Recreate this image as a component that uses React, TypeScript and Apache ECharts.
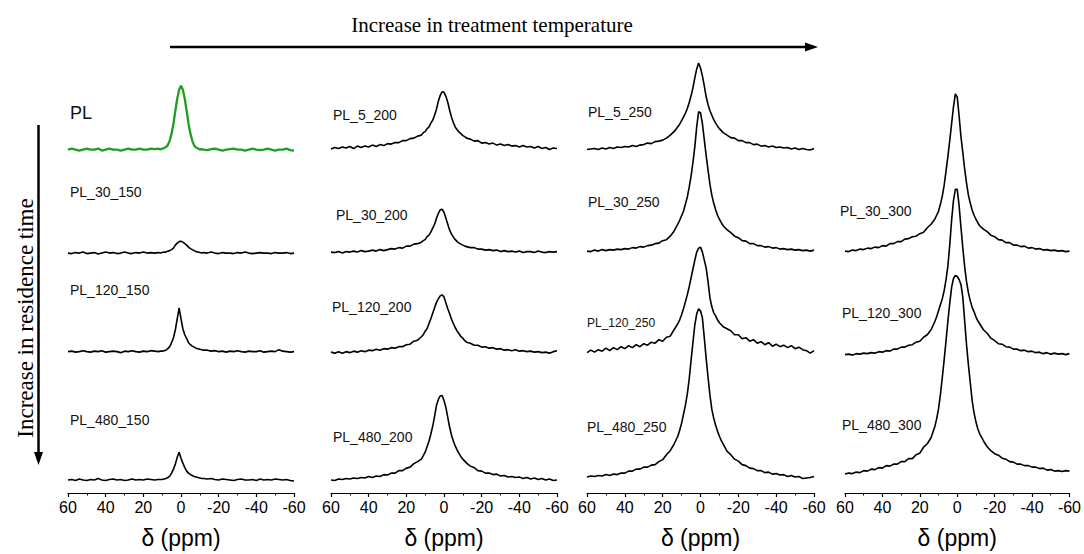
import React, { useEffect, useRef } from "react";
import * as echarts from "echarts";

// chemical shift grid (ppm), shared by every spectrum
const PPM = [
  60, 58, 56, 54, 52, 50, 48, 46, 44, 42, 40, 38, 36, 34, 32, 30, 28, 26, 24, 22, 20, 18, 16, 14,
  12, 11, 10, 9, 8, 7, 6, 5, 4, 3, 2, 1, 0, -1, -2, -3, -4, -5, -6, -7, -8, -9, -10, -11, -12,
  -14, -16, -18, -20, -22, -24, -26, -28, -30, -32, -34, -36, -38, -40, -42, -44, -46, -48, -50, -52, -54, -56, -58, -60,
];

const X_TICKS = [60, 40, 20, 0, -20, -40, -60];

// intensities (arbitrary units) above each spectrum's baseline
const I_PL = [
  0, 1, 0, -1, 0, 1, 0, 0, 1, -1, 0, 1, 0, 0, -1, 0, 1, 0, 0, 1, 0, 0, 1, 0.5,
  1, 0, 1, 1.5, 2.5, 4.5, 9, 16, 26, 39, 51, 60, 64, 60, 51, 39, 26, 16, 9, 4, 2, 1, 0, 0.5, 0,
  -0.5, 0.5, 1, 0, -1, 0, 0.5, 1, 0, 0, -1, 0, 1, 0, -0.5, 0, 1, 0, -1, 0, 0, 1, -0.5, -1,
];
const I_PL_30_150 = [
  0, -0.5, 0.5, 0, 1, -0.5, 0, 0.5, -1, 0, 1, 0, 0.5, -0.5, 0, 1, 0, -0.5, 0.5, 0, 1, 0, 0.5, 0,
  0.5, 0, 0.5, 1, 1, 2, 2.5, 3.5, 5, 8, 10, 11.5, 12, 11, 9.5, 8, 6, 4.5, 3.5, 2.5, 1.5, 1, 0.5, 0, 0.5,
  0, 1, 0, -0.5, 0.5, 0, 0, -0.5, 0.5, 0, 1, 0, -0.5, 0, 0.5, 0, 0, -0.5, 0.5, 0, 0, 0.5, -0.5, 0,
];
const I_PL_120_150 = [
  0, 0.5, -0.5, 0, 1, 0, -0.5, 0.5, 0, 1, -0.5, 0, 0.5, 0, -1, 0.5, 0, 1, 0, -0.5, 0.5, 0, 1, 0.5,
  0, 0.5, 0.5, 1, 1.5, 3, 5, 9, 14, 22, 33, 44, 33, 23, 17, 13, 9, 7, 5.5, 4.5, 3.5, 3, 2.5, 2, 1.5,
  1.5, 0.5, 1, 0, 0.5, -0.5, 0.5, 0, 1, 0, -0.5, 0.5, 0, 0, 1, -0.5, 0, 0.5, 0, 2, 0.5, 0, -0.5, 0,
];
const I_PL_480_150 = [
  0, 0.5, -0.5, 1, 0, -0.5, 0.5, 0, 1.5, 0, -0.5, 0.5, 1, 0, 0.5, -0.5, 0, 1, 0, 0.5, 0, 1, 0.5, 0,
  0.5, 0.5, 0.5, 1, 1.5, 2.5, 4, 7, 11, 16, 23, 28, 22, 17, 12.5, 9, 7, 5.5, 4.5, 3.5, 3, 2.5, 2, 1.5, 1.5,
  1, 1.5, 0.5, 0, 1, 0.5, 0, -0.5, 0.5, 1, 0, 0, 0.5, -0.5, 1, 0, 0.5, 0, 1, 0.5, 0, 0.5, -0.5, -1,
];
const I_PL_5_200 = [
  -1, 0.5, -0.5, 1, 0, 1.5, -0.5, 2, 0.5, 2, 1, 3, 1.5, 3.5, 2.5, 4.5, 4, 5.5, 5.5, 7.5, 7.5, 9.5, 10, 12,
  13, 15.5, 16.5, 19.5, 21, 25, 28, 33, 39, 47, 53, 56.5, 56, 52, 46, 38, 31, 25.5, 21, 18.5, 16, 14.5, 12.5, 11.5, 10,
  9, 7, 7.5, 5, 5.5, 4, 5, 3, 4, 2.5, 3.5, 2, 2.5, 1, 2.5, 1, 1.5, 0, 1.5, -0.5, 0.5, -1.5, 0, -0.5,
];
const I_PL_30_200 = [
  0, -0.5, 0.5, -1, 0.5, 0, 1, 0, 1.5, 0.5, 1, 2, 1, 2.5, 1.5, 2.5, 3.5, 3, 4.5, 4, 6, 6, 8, 8.5,
  10, 11.5, 12.5, 15.5, 17, 20, 24, 28, 34, 39, 42.5, 43, 40, 34, 28, 22, 18, 15, 12.5, 10.5, 9, 8, 7, 6, 5.5,
  4.5, 4.5, 3, 3, 2, 2.5, 1.5, 2, 0.5, 1.5, 0.5, 1, 0, 1, -0.5, 0.5, 0.5, -0.5, 1, 0, -0.5, 0.5, 0, 0.5,
];
const I_PL_120_200 = [
  0.5, -0.5, 1, -0.5, 1, 0, 1.5, 0.5, 2, 1, 2.5, 2, 3.5, 2.5, 4, 3.5, 5, 4.5, 6, 6, 8, 8.5, 11.5, 12.5,
  16, 18, 21.5, 24, 29, 34, 39.5, 45, 50.5, 54, 57, 58, 56, 50, 44, 39, 33.5, 29, 25, 21.5, 19, 16, 14.5, 12, 10.5,
  9.5, 7.5, 7.5, 5.5, 6, 4.5, 5, 3.5, 4, 2.5, 3, 2, 3, 1.5, 2, 1, 1.5, 0.5, 1, 0, 0.5, -0.5, 1, 2,
];
const I_PL_480_200 = [
  0, -0.5, 1, 0.5, 1.5, 1, 2, 1.5, 2.5, 2, 3.5, 2.5, 4, 3.5, 5.5, 5, 7, 7, 9.5, 9.5, 12, 13, 16.5, 18.5,
  21, 24.5, 28, 33.5, 39, 46, 54, 64, 75, 81, 84.5, 85, 80, 73, 63, 53, 45, 39, 34, 30, 26.5, 23.5, 21, 19, 17,
  14, 12.5, 9.5, 9, 7, 7, 5.5, 6, 4, 4.5, 3, 3.5, 2.5, 3, 1.5, 2.5, 1, 2, 0.5, 1.5, 0, 1, -0.5, 0,
];
const I_PL_5_250 = [
  0, 0.5, 1, 0, 1.5, 0.5, 2, 1, 2.5, 2, 3, 2.5, 4, 3, 4.5, 5, 6.5, 6, 8, 8.5, 9.5, 11.5, 14.5, 18,
  23, 25.5, 29, 32.5, 36.5, 41, 47, 54, 62, 72, 81, 87, 82, 74, 64, 53, 45, 39, 34.5, 30, 26.5, 23.5, 21, 19, 17,
  14.5, 12, 11.5, 9, 9, 7, 7, 5, 5.5, 3.5, 4, 2.5, 3.5, 2, 2.5, 1.5, 2, 0.5, 1.5, 0, 1, 0, -0.5, 1,
];
const I_PL_30_250 = [
  0, -0.5, 1, 0, 1.5, 0.5, 1.5, 1, 2, 1.5, 2.5, 2, 3.5, 3, 4.5, 4, 5.5, 6, 7.5, 8, 10.5, 11.5, 15, 20,
  27, 31, 35.5, 40, 47, 54, 64, 75, 89, 105, 125, 140, 139, 128, 112, 96, 81, 67, 56, 48, 41.5, 36, 32, 28.5, 25.5,
  21.5, 18.5, 15, 13.5, 10.5, 10, 7.5, 7.5, 5.5, 5.5, 4, 4.5, 3, 3.5, 2, 2.5, 1.5, 2, 1, 1.5, 0.5, 1, 0, 1,
];
const I_PL_120_250 = [
  -1, 1.5, -0.5, 2, 0.5, 3.5, 1, 4, 2, 5, 3, 6, 4, 7, 5, 8, 6.5, 9.5, 8.5, 12, 10.5, 14.5, 15.5, 22,
  28, 32, 37, 43, 50, 57, 65, 74, 83, 92, 100, 104, 105, 100, 92, 84, 70, 54, 45, 39, 36, 32, 29, 27, 25,
  23, 21, 17, 17, 13, 14, 10.5, 12, 8.5, 10, 7, 9, 5.5, 7.5, 5, 6.5, 4, 6, 3, 4.5, 2, 1, -1.5, 1,
];
const I_PL_480_250 = [
  0, 1, 0.5, 1.5, 1, 2.5, 1.5, 3, 2.5, 4, 4, 6, 6, 8, 8, 10, 10, 12, 12.5, 15.5, 17.5, 22.5, 26.5, 33,
  41, 47, 54, 63, 72, 83, 98, 117, 135, 153, 164, 169, 167, 160, 140, 119, 100, 82, 68, 59, 52, 46, 41, 36.5, 33,
  26, 22.5, 18, 16, 12.5, 11.5, 9, 8.5, 6.5, 6.5, 4.5, 5, 3, 3.5, 2, 2.5, 0.5, 1.5, 0, 0.5, -1.5, -1, -0.5, 0.5,
];
const I_PL_30_300 = [
  0, -0.5, 1, 0.5, 2, 1.5, 3, 2.5, 4, 3.5, 5.5, 5, 7.5, 7.5, 9.5, 9.5, 12, 12.5, 14.5, 15, 17.5, 19, 23.5, 27,
  32, 36, 40, 47, 55, 66, 80, 95, 111, 128, 145, 158, 155, 136, 115, 99, 82, 68, 56, 48, 41, 36, 32, 28.5, 25.5,
  22, 19.5, 16, 14.5, 11.5, 11, 8.5, 8.5, 6, 6, 4.5, 5, 3, 3.5, 2, 2.5, 1, 1.5, 0.5, 1, 0, 0.5, -0.5, 0,
];
const I_PL_120_300 = [
  0, 0.5, -0.5, 1, 0.5, 1.5, 1, 2, 1.5, 3, 2.5, 4, 3.5, 5.5, 5.5, 7.5, 7.5, 9.5, 10, 12.5, 13.5, 17.5, 20, 25,
  33, 38, 44, 50, 56, 64, 75, 89, 110, 135, 155, 166, 166, 150, 128, 107, 88, 73, 62, 54, 47.5, 43, 38, 34, 31,
  25, 21.5, 16.5, 14, 11, 10.5, 8, 7.5, 5.5, 5.5, 4, 4.5, 3, 3.5, 2, 2.5, 1, 2, 0.5, 1.5, 0.5, 1, 0, 1,
];
const I_PL_480_300 = [
  -1.5, -0.5, -1, 0.5, 0, 2, 1.5, 3.5, 3, 5, 4.5, 7, 6.5, 8.5, 8.5, 11, 11, 14, 14, 18, 19.5, 25.5, 29, 35,
  46, 54, 64, 78, 95, 113, 132, 152, 170, 186, 195, 198, 197, 194, 189, 176, 152, 128, 108, 90, 72, 60, 51, 44, 39,
  32, 26, 22, 19, 17.5, 14.5, 13.5, 11, 10.5, 8.5, 8.5, 7, 7, 5.5, 5.5, 4, 4.5, 2.5, 3, 1.5, 2, 1, 2, 1.5,
];

// stacking: names, intensities and baseline offsets per column (treatment temperature)
const COL1_NAMES = ["PL", "PL_30_150", "PL_120_150", "PL_480_150"];
const COL1_DATA = [I_PL, I_PL_30_150, I_PL_120_150, I_PL_480_150];
const COL1_OFFSETS = [345, 241, 142, 13];

const COL2_NAMES = ["PL_5_200", "PL_30_200", "PL_120_200", "PL_480_200"];
const COL2_DATA = [I_PL_5_200, I_PL_30_200, I_PL_120_200, I_PL_480_200];
const COL2_OFFSETS = [346.5, 242, 141, 13];

const COL3_NAMES = ["PL_5_250", "PL_30_250", "PL_120_250", "PL_480_250"];
const COL3_DATA = [I_PL_5_250, I_PL_30_250, I_PL_120_250, I_PL_480_250];
const COL3_OFFSETS = [345, 243, 142, 16];

const COL4_NAMES = ["PL_30_300", "PL_120_300", "PL_480_300"];
const COL4_DATA = [I_PL_30_300, I_PL_120_300, I_PL_480_300];
const COL4_OFFSETS = [243, 139, 20.5];

// ---- layout / style (not data) ----
const SANS = "'Liberation Sans', Arial, sans-serif";
const SERIF = "'Liberation Serif', 'Times New Roman', serif";
const GRIDS = [
  { left: 68, width: 226 },
  { left: 331, width: 226 },
  { left: 587, width: 227 },
  { left: 845, width: 227 },
];
const GRID_TOP = 55;
const GRID_H = 440;

const LABEL_POS: Record<string, [number, number, number]> = {
  PL: [70, 113, 18],
  PL_30_150: [70, 192, 14],
  PL_120_150: [70, 290, 14],
  PL_480_150: [70, 420, 14],
  PL_5_200: [333, 115, 14],
  PL_30_200: [336, 215, 14],
  PL_120_200: [332, 307, 14],
  PL_480_200: [333, 437, 14],
  PL_5_250: [588, 112, 14],
  PL_30_250: [588, 202, 14],
  PL_120_250: [587, 323, 12],
  PL_480_250: [587, 427, 14],
  PL_30_300: [840, 211, 14],
  PL_120_300: [842, 313, 14],
  PL_480_300: [842, 425, 14],
};

export default function App() {
  const ref = useRef<HTMLDivElement>(null);

  useEffect(() => {
    if (!ref.current) return;
    const chart = echarts.init(ref.current, undefined, { renderer: "svg" });

    const columns = [
      { names: COL1_NAMES, data: COL1_DATA, offsets: COL1_OFFSETS },
      { names: COL2_NAMES, data: COL2_DATA, offsets: COL2_OFFSETS },
      { names: COL3_NAMES, data: COL3_DATA, offsets: COL3_OFFSETS },
      { names: COL4_NAMES, data: COL4_DATA, offsets: COL4_OFFSETS },
    ];

    const series: any[] = [];
    columns.forEach((col, c) => {
      col.names.forEach((name, s) => {
        const vals = col.data[s];
        const off = col.offsets[s];
        const isPL = name === "PL";
        series.push({
          type: "line",
          name,
          xAxisIndex: c,
          yAxisIndex: c,
          data: PPM.map((x, k) => [x, off + vals[k]]),
          showSymbol: false,
          symbol: "none",
          silent: true,
          clip: false,
          lineStyle: { color: isPL ? "#1f9e1f" : "#000", width: isPL ? 2.3 : 1.6 },
        });
      });
    });

    const graphic: any[] = [];
    Object.keys(LABEL_POS).forEach((name) => {
      const [x, y, fs] = LABEL_POS[name];
      graphic.push({
        type: "text",
        x,
        y,
        silent: true,
        style: { text: name, fill: "#111", fontSize: fs, fontFamily: SANS, align: "left", verticalAlign: "middle" },
      });
    });
    // top arrow + caption
    graphic.push({
      type: "text",
      x: 492,
      y: 25,
      style: {
        text: "Increase in treatment temperature",
        fill: "#000",
        fontSize: 21,
        fontFamily: SERIF,
        align: "center",
        verticalAlign: "middle",
      },
    });
    graphic.push({ type: "line", shape: { x1: 170, y1: 47, x2: 808, y2: 47 }, style: { stroke: "#000", lineWidth: 2.5 } });
    graphic.push({ type: "polygon", shape: { points: [[805, 42.5], [818, 47], [805, 51.5]] }, style: { fill: "#000" } });
    // left arrow + caption
    graphic.push({
      type: "text",
      x: 25,
      y: 318,
      rotation: Math.PI / 2,
      style: {
        text: "Increase in residence time",
        fill: "#000",
        fontSize: 23,
        fontFamily: SERIF,
        align: "center",
        verticalAlign: "middle",
      },
    });
    graphic.push({ type: "line", shape: { x1: 38.5, y1: 125, x2: 38.5, y2: 455 }, style: { stroke: "#000", lineWidth: 2.5 } });
    graphic.push({ type: "polygon", shape: { points: [[34, 452], [38.5, 465], [43, 452]] }, style: { fill: "#000" } });

    const option: any = {
      animation: false,
      backgroundColor: "#fff",
      grid: GRIDS.map((g) => ({ left: g.left, width: g.width, top: GRID_TOP, height: GRID_H })),
      xAxis: GRIDS.map((_, i) => ({
        type: "value",
        gridIndex: i,
        min: X_TICKS[X_TICKS.length - 1],
        max: X_TICKS[0],
        interval: 20,
        inverse: true,
        name: "δ (ppm)",
        nameLocation: "middle",
        nameGap: 33,
        nameTextStyle: { color: "#000", fontSize: 23, fontFamily: SANS },
        axisLine: { show: true, onZero: false, lineStyle: { color: "#000", width: 1.2 } },
        axisTick: { show: true, length: 4, lineStyle: { color: "#000", width: 1.2 } },
        minorTick: { show: true, splitNumber: 2, length: 2.5, lineStyle: { color: "#000", width: 1 } },
        axisLabel: { color: "#000", fontSize: 16, fontFamily: SANS, margin: 6 },
        splitLine: { show: false },
      })),
      yAxis: GRIDS.map((_, i) => ({ type: "value", gridIndex: i, min: 0, max: GRID_H, show: false })),
      series,
      graphic,
    };

    chart.setOption(option);
    return () => chart.dispose();
  }, []);

  return (
    <div
      ref={ref}
      style={{ position: "absolute", left: 0, top: 0, width: 1084, height: 554, background: "#fff" }}
    />
  );
}
